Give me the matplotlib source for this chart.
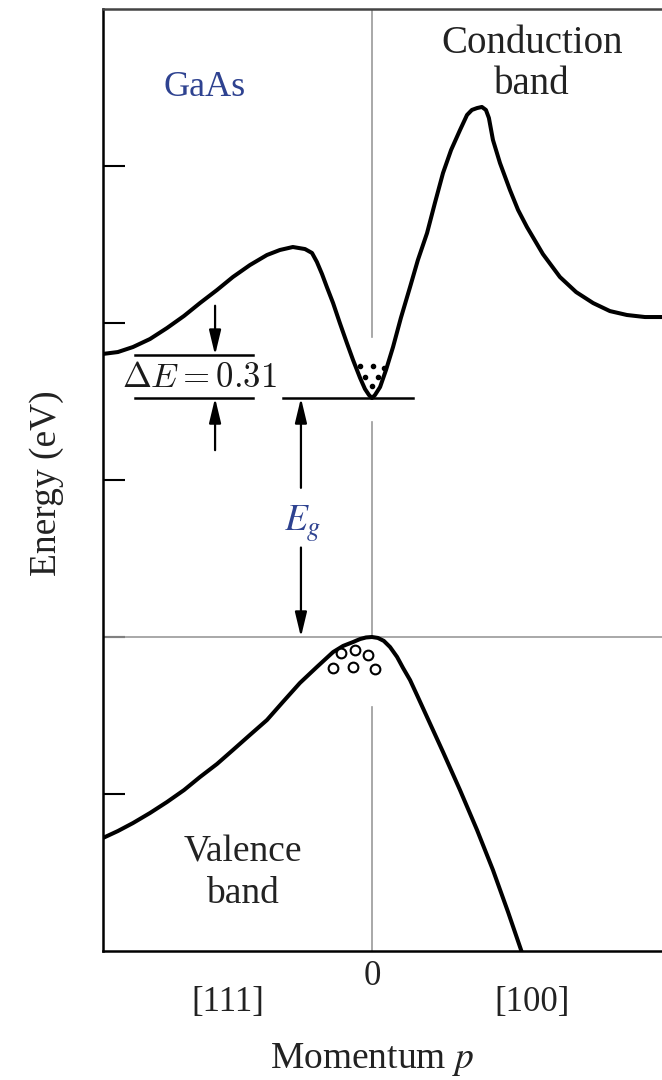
import numpy as np
import matplotlib
matplotlib.use("Agg")
import matplotlib.pyplot as plt

plt.rcParams['font.family'] = ['Liberation Serif', 'DejaVu Serif']

# momentum (0 = Gamma point, left = [111], right = [100]) and energy in eV (schematic)
cb_p = [-0.996, -0.941, -0.885, -0.822, -0.759, -0.696, -0.637, -0.574, -0.515, -0.452,
        -0.389, -0.341, -0.293, -0.248, -0.222, -0.204, -0.185, -0.167, -0.144, -0.119,
        -0.093, -0.070, -0.044, -0.026, -0.011, 0.0, 0.011, 0.030, 0.052, 0.078,
        0.107, 0.141, 0.170, 0.204, 0.233, 0.263, 0.293, 0.326, 0.352, 0.370,
        0.389, 0.407, 0.422, 0.433, 0.448, 0.474, 0.511, 0.541, 0.574, 0.633,
        0.696, 0.756, 0.819, 0.881, 0.944, 1.011, 1.074]
cb_E = [1.803, 1.815, 1.847, 1.898, 1.968, 2.045, 2.127, 2.210, 2.293, 2.369,
        2.433, 2.465, 2.484, 2.471, 2.446, 2.389, 2.312, 2.229, 2.127, 2.000,
        1.873, 1.764, 1.650, 1.580, 1.541, 1.522, 1.541, 1.592, 1.701, 1.847,
        2.032, 2.229, 2.401, 2.573, 2.764, 2.955, 3.102, 3.229, 3.325, 3.357,
        3.369, 3.376, 3.357, 3.306, 3.166, 3.019, 2.847, 2.720, 2.611, 2.439,
        2.293, 2.197, 2.127, 2.076, 2.051, 2.038, 2.038]

vb_p = [-0.996, -0.941, -0.885, -0.822, -0.759, -0.696, -0.637, -0.574, -0.515, -0.452,
        -0.389, -0.330, -0.267, -0.204, -0.144, -0.107, -0.070, -0.044, -0.022, 0.0,
        0.022, 0.044, 0.067, 0.093, 0.115, 0.141, 0.170, 0.204, 0.263, 0.326,
        0.389, 0.448, 0.504, 0.556]
vb_E = [-1.280, -1.236, -1.185, -1.121, -1.051, -0.975, -0.892, -0.809, -0.720, -0.624,
        -0.529, -0.414, -0.293, -0.191, -0.096, -0.057, -0.032, -0.013, -0.003, 0.0,
        -0.006, -0.025, -0.064, -0.127, -0.197, -0.274, -0.382, -0.510, -0.732, -0.975,
        -1.229, -1.484, -1.752, -2.013]

# electrons in the conduction-band valley, holes at the valence-band top
elec_p = [-0.044, 0.004, 0.044, -0.026, 0.022, 0.0]
elec_E = [1.729, 1.729, 1.716, 1.653, 1.653, 1.596]
hole_p = [-0.115, -0.063, -0.015, -0.144, -0.070, 0.011]
hole_E = [-0.102, -0.083, -0.114, -0.197, -0.191, -0.203]

E_side = 1.796    # side valley minimum
E_gap = 1.522     # conduction-band minimum
yticks = [-1, 0, 1, 2, 3]

fig = plt.figure(figsize=(6.62, 10.8), dpi=100)
ax = fig.add_axes([103 / 662, 1 - 951 / 1080, 1 - 103 / 662, 942 / 1080])
ax.set_xlim(-0.996, 1.074)
ax.set_ylim(-2.0, 4.0)

grey = '#9a9a9a'
ax.plot([0, 0], [4.0, 1.91], color=grey, lw=1.2)
ax.plot([0, 0], [1.37, 0.0], color=grey, lw=1.2)
ax.plot([0, 0], [-0.445, -2.0], color=grey, lw=1.2)
ax.axhline(0, color=grey, lw=1.2)

ax.plot(cb_p, cb_E, color='black', lw=2.9, solid_joinstyle='round', solid_capstyle='round')
ax.plot(vb_p, vb_E, color='black', lw=2.9, solid_joinstyle='round', solid_capstyle='round')
ax.plot(elec_p, elec_E, 'o', color='black', ms=3, ls='none')
ax.plot(hole_p, hole_E, 'o', mfc='white', mec='black', mew=1.5, ms=7, ls='none')

# Delta E marks
ax.plot([-0.878, -0.441], [E_side, E_side], color='black', lw=1.8)
ax.plot([-0.878, -0.441], [E_gap, E_gap], color='black', lw=1.8)
ax.plot([-0.330, 0.152], [E_gap, E_gap], color='black', lw=1.8)

arr = dict(arrowstyle='-|>,head_length=0.75,head_width=0.18', color='black', lw=1.6,
           mutation_scale=20, shrinkA=0, shrinkB=0)
ax.annotate('', xy=(-0.581, E_side), xytext=(-0.581, 2.11), arrowprops=arr)
ax.annotate('', xy=(-0.581, E_gap), xytext=(-0.581, 1.19), arrowprops=arr)
ax.annotate('', xy=(-0.263, E_gap), xytext=(-0.263, 0.95), arrowprops=arr)
ax.annotate('', xy=(-0.263, 0.0), xytext=(-0.263, 0.57), arrowprops=arr)

ax.text(-0.641, 1.647, r'$\Delta E = 0.31$', math_fontfamily='cm', fontsize=25,
        ha='center', va='center', color='#1a1a1a')
ax.text(-0.255, 0.72, r'$E_g$', math_fontfamily='stix', fontsize=27,
        ha='center', va='center', color='#2e4290')

blue = '#2e4290'
ax.text(-0.619, 3.497, 'GaAs', fontsize=26, color=blue, ha='center', va='center')
ax.text(0.593, 3.78, 'Conduction', fontsize=28, color='#222222', ha='center', va='center')
ax.text(0.593, 3.52, 'band', fontsize=28, color='#222222', ha='center', va='center')
ax.text(-0.478, -1.373, 'Valence', fontsize=27, color='#222222', ha='center', va='center')
ax.text(-0.478, -1.634, 'band', fontsize=27, color='#222222', ha='center', va='center')

# x "tick" labels below the axis
ax.set_xticks([])
ax.text(0.0, -2.165, '0', fontsize=25, ha='center', va='center', color='#222222', clip_on=False)
ax.text(-0.533, -2.33, '[111]', fontsize=25, ha='center', va='center', color='#222222', clip_on=False)
ax.text(0.593, -2.33, '[100]', fontsize=25, ha='center', va='center', color='#222222', clip_on=False)
ax.text(0.0, -2.69, 'Momentum $p$', math_fontfamily='stix', fontsize=27, ha='center',
        va='center', color='#222222', clip_on=False)

ax.set_yticks(yticks)
ax.set_yticklabels([])
ax.tick_params(axis='y', direction='in', length=16, width=1.5, color='black')
ax.set_ylabel('Energy (eV)', fontsize=27, color='#222222')
ax.yaxis.set_label_coords(-39 / 559, (951 - 483) / 942)

ax.spines['right'].set_visible(False)
for s in ['left', 'bottom', 'top']:
    ax.spines[s].set_linewidth(1.8)
ax.spines['top'].set_color('#444444')

fig.savefig('out.png', dpi=100)
